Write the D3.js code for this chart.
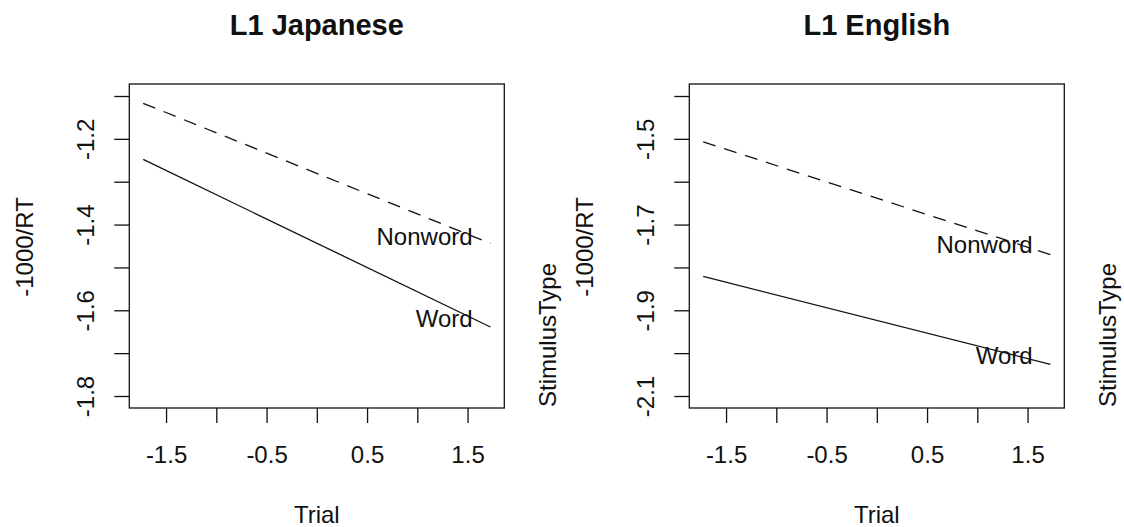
<!DOCTYPE html>
<html>
<head>
<meta charset="utf-8">
<script src="https://cdn.jsdelivr.net/npm/d3@7"></script>
<style>
  html, body { margin: 0; padding: 0; background: #fff; }
  svg { display: block; font-family: "Liberation Sans", Arial, Helvetica, sans-serif; }
</style>
</head>
<body>
<svg id="chart" width="1124" height="527"></svg>
<script>
// Fitted -1000/RT by trial (standardised) for each stimulus type, per L1 group
const panelTitles = ["L1 Japanese", "L1 English"];
const stimulusTypes = ["Word", "Nonword"];
const trialRange = [-1.7275, 1.7275];

const japaneseWord = [-1.248, -1.639];
const japaneseNonword = [-1.117, -1.444];
const englishWord = [-1.821, -2.026];
const englishNonword = [-1.507, -1.770];

const yLimits = [[-1.8, -1.1], [-2.1, -1.4]];
const yTicksJapanese = [-1.8, -1.7, -1.6, -1.5, -1.4, -1.3, -1.2, -1.1];
const yTickLabelsJapanese = ["-1.8", "", "-1.6", "", "-1.4", "", "-1.2", ""];
const yTicksEnglish = [-2.1, -2.0, -1.9, -1.8, -1.7, -1.6, -1.5, -1.4];
const yTickLabelsEnglish = ["-2.1", "", "-1.9", "", "-1.7", "", "-1.5", ""];
const xTicks = [-1.5, -1, -0.5, 0, 0.5, 1, 1.5];
const xTickLabels = ["-1.5", "", "-0.5", "", "0.5", "", "1.5"];

// where each curve is named: trial position and -1000/RT level
const labelTrial = 1.55;
const labelLevelsJapanese = [-1.619, -1.4275];
const labelLevelsEnglish = [-2.006, -1.746];

const panels = [
  { title: panelTitles[0], series: [japaneseWord, japaneseNonword], ylim: yLimits[0],
    yTicks: yTicksJapanese, yTickLabels: yTickLabelsJapanese, labelLevels: labelLevelsJapanese },
  { title: panelTitles[1], series: [englishWord, englishNonword], ylim: yLimits[1],
    yTicks: yTicksEnglish, yTickLabels: yTickLabelsEnglish, labelLevels: labelLevelsEnglish }
];

const svg = d3.select("#chart");
const panelOffset = 560;
const box = { left: 129.3, right: 504.3, top: 84, bottom: 408 };
const ink = "#111";
const dashes = [null, "13,9"]; // Word solid, Nonword dashed

// R-style 4% padding of the axis limits
function padded(lim) {
  const span = lim[1] - lim[0];
  return [lim[0] - 0.04 * span, lim[1] + 0.04 * span];
}

panels.forEach((p, pi) => {
  const g = svg.append("g").attr("transform", `translate(${pi * panelOffset},0)`);

  const x = d3.scaleLinear().domain(padded(trialRange)).range([box.left, box.right]);
  const y = d3.scaleLinear().domain(padded(p.ylim)).range([box.bottom, box.top]);

  // plot frame
  g.append("rect")
    .attr("x", box.left).attr("y", box.top)
    .attr("width", box.right - box.left).attr("height", box.bottom - box.top)
    .attr("fill", "none").attr("stroke", ink).attr("stroke-width", 1.3);

  // y axis with rotated labels
  const yAxis = g.append("g")
    .attr("transform", `translate(${box.left},0)`)
    .call(d3.axisLeft(y).tickValues(p.yTicks).tickSize(15)
      .tickFormat((d, i) => p.yTickLabels[i]));
  yAxis.select(".domain").remove();
  yAxis.selectAll(".tick line").attr("stroke", ink).attr("stroke-width", 1.3);
  yAxis.selectAll(".tick text")
    .attr("x", null).attr("dy", null)
    .attr("text-anchor", "middle")
    .attr("transform", "translate(-35.8,0) rotate(-90)")
    .attr("font-size", 24).attr("fill", ink);

  // x axis
  const xAxis = g.append("g")
    .attr("transform", `translate(0,${box.bottom})`)
    .call(d3.axisBottom(x).tickValues(xTicks).tickSize(15)
      .tickFormat((d, i) => xTickLabels[i]));
  xAxis.select(".domain").remove();
  xAxis.selectAll(".tick line").attr("stroke", ink).attr("stroke-width", 1.3);
  xAxis.selectAll(".tick text")
    .attr("y", 55).attr("dy", null)
    .attr("font-size", 24).attr("fill", ink);

  // fitted lines
  const line = d3.line().x(d => x(d[0])).y(d => y(d[1]));
  p.series.forEach((vals, si) => {
    const pts = trialRange.map((t, k) => [t, vals[k]]);
    g.append("path")
      .attr("d", line(pts))
      .attr("fill", "none")
      .attr("stroke", ink)
      .attr("stroke-width", 1.3)
      .attr("stroke-dasharray", dashes[si]);
  });

  // curve names
  stimulusTypes.forEach((name, si) => {
    g.append("text")
      .attr("x", x(labelTrial))
      .attr("y", y(p.labelLevels[si]))
      .attr("dy", "0.36em")
      .attr("text-anchor", "end")
      .attr("font-size", 24).attr("fill", ink)
      .text(name === "Word" ? "Word" : "Nonword");
  });

  const cx = (box.left + box.right) / 2;
  const cy = (box.top + box.bottom) / 2;

  // title
  g.append("text")
    .attr("x", cx).attr("y", 35)
    .attr("text-anchor", "middle")
    .attr("font-size", 29).attr("font-weight", "bold").attr("fill", ink)
    .text(p.title);

  // axis titles
  g.append("text")
    .attr("x", cx).attr("y", 523)
    .attr("text-anchor", "middle")
    .attr("font-size", 24).attr("fill", ink)
    .text("Trial");

  g.append("text")
    .attr("transform", `translate(33.3,${cy + 1}) rotate(-90)`)
    .attr("text-anchor", "middle")
    .attr("font-size", 24).attr("fill", ink)
    .text("-1000/RT");

  g.append("text")
    .attr("transform", `translate(555.7,${box.bottom - 1}) rotate(-90)`)
    .attr("text-anchor", "start")
    .attr("font-size", 24).attr("fill", ink)
    .text("StimulusType");
});
</script>
</body>
</html>
